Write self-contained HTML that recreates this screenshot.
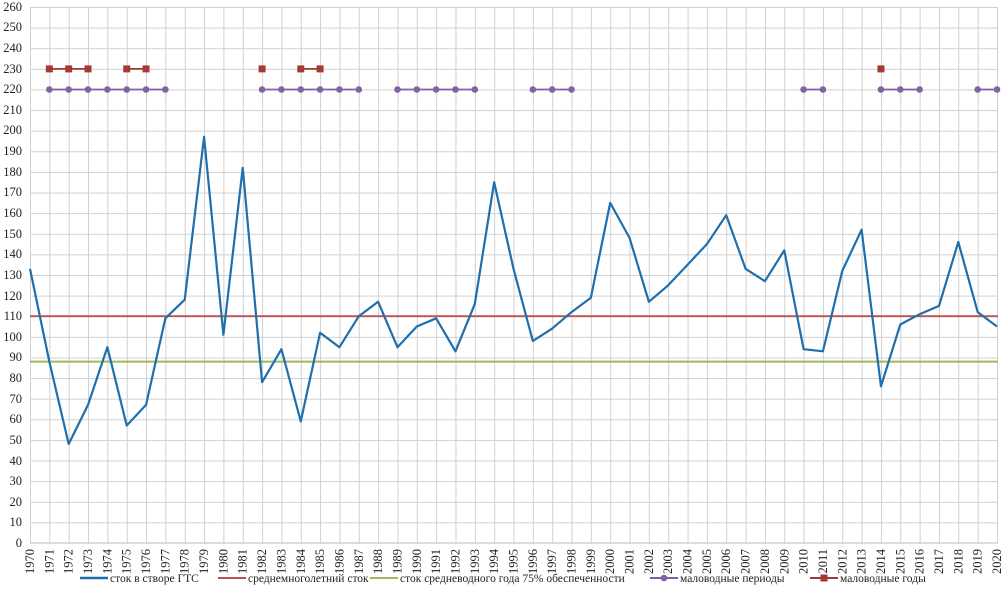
<!DOCTYPE html>
<html><head><meta charset="utf-8"><style>body{margin:0;background:#fff}svg{display:block;font-family:"Liberation Serif",serif}</style></head><body>
<svg width="1007" height="590" xmlns="http://www.w3.org/2000/svg">
<defs>
<pattern id="gp" patternUnits="userSpaceOnUse" x="30" y="7" width="19.34" height="20.615">
<path d="M0 0.5H19.34M0.5 0V20.615" stroke="#d0d0d0" stroke-width="1" fill="none"/>
</pattern>
</defs>
<rect x="30" y="7" width="968" height="536" fill="url(#gp)"/>
<line x1="30" y1="543" x2="998" y2="543" stroke="#bbb"/>
<line x1="997.5" y1="7" x2="997.5" y2="543" stroke="#d0d0d0"/>
<g font-size="12.5" text-anchor="end" fill="#222">
<text x="22" y="547">0</text><text x="22" y="526">10</text><text x="22" y="506">20</text><text x="22" y="485">30</text><text x="22" y="465">40</text><text x="22" y="444">50</text><text x="22" y="423">60</text><text x="22" y="403">70</text><text x="22" y="382">80</text><text x="22" y="361">90</text><text x="22" y="341">100</text><text x="22" y="320">110</text><text x="22" y="300">120</text><text x="22" y="279">130</text><text x="22" y="258">140</text><text x="22" y="238">150</text><text x="22" y="217">160</text><text x="22" y="196">170</text><text x="22" y="176">180</text><text x="22" y="155">190</text><text x="22" y="134">200</text><text x="22" y="114">210</text><text x="22" y="93">220</text><text x="22" y="73">230</text><text x="22" y="52">240</text><text x="22" y="31">250</text><text x="22" y="11">260</text>
</g>
<g font-size="12.5" text-anchor="end" fill="#222" transform="translate(0,549) rotate(-90)">
<text x="0" y="34">1970</text><text x="0" y="53.3">1971</text><text x="0" y="72.7">1972</text><text x="0" y="92">1973</text><text x="0" y="111.4">1974</text><text x="0" y="130.7">1975</text><text x="0" y="150">1976</text><text x="0" y="169.4">1977</text><text x="0" y="188.7">1978</text><text x="0" y="208.1">1979</text><text x="0" y="227.4">1980</text><text x="0" y="246.7">1981</text><text x="0" y="266.1">1982</text><text x="0" y="285.4">1983</text><text x="0" y="304.8">1984</text><text x="0" y="324.1">1985</text><text x="0" y="343.4">1986</text><text x="0" y="362.8">1987</text><text x="0" y="382.1">1988</text><text x="0" y="401.5">1989</text><text x="0" y="420.8">1990</text><text x="0" y="440.1">1991</text><text x="0" y="459.5">1992</text><text x="0" y="478.8">1993</text><text x="0" y="498.2">1994</text><text x="0" y="517.5">1995</text><text x="0" y="536.8">1996</text><text x="0" y="556.2">1997</text><text x="0" y="575.5">1998</text><text x="0" y="594.9">1999</text><text x="0" y="614.2">2000</text><text x="0" y="633.5">2001</text><text x="0" y="652.9">2002</text><text x="0" y="672.2">2003</text><text x="0" y="691.6">2004</text><text x="0" y="710.9">2005</text><text x="0" y="730.2">2006</text><text x="0" y="749.6">2007</text><text x="0" y="768.9">2008</text><text x="0" y="788.3">2009</text><text x="0" y="807.6">2010</text><text x="0" y="826.9">2011</text><text x="0" y="846.3">2012</text><text x="0" y="865.6">2013</text><text x="0" y="885">2014</text><text x="0" y="904.3">2015</text><text x="0" y="923.6">2016</text><text x="0" y="943">2017</text><text x="0" y="962.3">2018</text><text x="0" y="981.7">2019</text><text x="0" y="1001">2020</text>
</g>
<line x1="30" x2="998" y1="316.2" y2="316.2" stroke="#c0504d" stroke-width="1.8"/>
<line x1="30" x2="998" y1="361.6" y2="361.6" stroke="#9bbb59" stroke-width="2"/>
<polyline fill="none" stroke="#1f6fad" stroke-width="2.2" stroke-linejoin="round" points="30,268.8 49.34,361.6 68.68,444 88.02,404.9 107.36,347.2 126.7,425.5 146.04,404.9 165.38,318.3 184.72,299.7 204.06,136.9 223.4,334.8 242.74,167.8 262.08,382.2 281.42,349.2 300.76,421.4 320.1,332.7 339.44,347.2 358.78,316.2 378.12,301.8 397.46,347.2 416.8,326.5 436.14,318.3 455.48,351.3 474.82,303.9 494.16,182.2 513.5,268.8 532.84,341 552.18,328.6 571.52,312.1 590.86,297.7 610.2,202.9 629.54,237.9 648.88,301.8 668.22,285.3 687.56,264.7 706.9,244.1 726.24,215.2 745.58,268.8 764.92,281.2 784.26,250.3 803.6,349.2 822.94,351.3 842.28,270.9 861.62,229.7 880.96,386.3 900.3,324.5 919.64,314.2 939,305.9 958.3,242 977.7,312.1 997,326.5"/>
<g stroke="#8064a2" stroke-width="1.8">
<line x1="49.34" x2="165.38" y1="89.5" y2="89.5"/><line x1="262.08" x2="358.78" y1="89.5" y2="89.5"/><line x1="397.46" x2="474.82" y1="89.5" y2="89.5"/><line x1="532.84" x2="571.52" y1="89.5" y2="89.5"/><line x1="803.6" x2="822.94" y1="89.5" y2="89.5"/><line x1="880.96" x2="919.64" y1="89.5" y2="89.5"/><line x1="977.7" x2="997" y1="89.5" y2="89.5"/>
</g>
<g fill="#8064a2">
<circle cx="49.34" cy="89.5" r="3.3"/><circle cx="68.68" cy="89.5" r="3.3"/><circle cx="88.02" cy="89.5" r="3.3"/><circle cx="107.36" cy="89.5" r="3.3"/><circle cx="126.7" cy="89.5" r="3.3"/><circle cx="146.04" cy="89.5" r="3.3"/><circle cx="165.38" cy="89.5" r="3.3"/>
<circle cx="262.08" cy="89.5" r="3.3"/><circle cx="281.42" cy="89.5" r="3.3"/><circle cx="300.76" cy="89.5" r="3.3"/><circle cx="320.1" cy="89.5" r="3.3"/><circle cx="339.44" cy="89.5" r="3.3"/><circle cx="358.78" cy="89.5" r="3.3"/>
<circle cx="397.46" cy="89.5" r="3.3"/><circle cx="416.8" cy="89.5" r="3.3"/><circle cx="436.14" cy="89.5" r="3.3"/><circle cx="455.48" cy="89.5" r="3.3"/><circle cx="474.82" cy="89.5" r="3.3"/>
<circle cx="532.84" cy="89.5" r="3.3"/><circle cx="552.18" cy="89.5" r="3.3"/><circle cx="571.52" cy="89.5" r="3.3"/>
<circle cx="803.6" cy="89.5" r="3.3"/><circle cx="822.94" cy="89.5" r="3.3"/>
<circle cx="880.96" cy="89.5" r="3.3"/><circle cx="900.3" cy="89.5" r="3.3"/><circle cx="919.64" cy="89.5" r="3.3"/>
<circle cx="977.7" cy="89.5" r="3.3"/><circle cx="997" cy="89.5" r="3.3"/>
</g>
<g stroke="#a33a36" stroke-width="1.8">
<line x1="49.34" x2="88.02" y1="68.9" y2="68.9"/><line x1="126.7" x2="146.04" y1="68.9" y2="68.9"/><line x1="300.76" x2="320.1" y1="68.9" y2="68.9"/>
</g>
<g fill="#a33a36">
<rect x="45.84" y="65.4" width="7" height="7"/><rect x="65.18" y="65.4" width="7" height="7"/><rect x="84.52" y="65.4" width="7" height="7"/><rect x="123.2" y="65.4" width="7" height="7"/><rect x="142.54" y="65.4" width="7" height="7"/><rect x="258.58" y="65.4" width="7" height="7"/><rect x="297.26" y="65.4" width="7" height="7"/><rect x="316.6" y="65.4" width="7" height="7"/><rect x="877.46" y="65.4" width="7" height="7"/>
</g>
<g font-size="11.5" fill="#222">
<line x1="80" y1="578" x2="108" y2="578" stroke="#1f6fad" stroke-width="2.5"/><text x="110" y="582">сток в створе ГТС</text>
<line x1="218" y1="578" x2="246" y2="578" stroke="#c0504d" stroke-width="2"/><text x="248" y="582">среднемноголетний сток</text>
<line x1="370" y1="578" x2="398" y2="578" stroke="#9bbb59" stroke-width="2"/><text x="400" y="582">сток средневодного года 75% обеспеченности</text>
<line x1="650" y1="578" x2="678" y2="578" stroke="#8064a2" stroke-width="2"/><circle cx="664" cy="578" r="3.3" fill="#8064a2"/><text x="680" y="582">маловодные периоды</text>
<line x1="810" y1="578" x2="838" y2="578" stroke="#a33a36" stroke-width="2"/><rect x="820.5" y="574.5" width="7" height="7" fill="#a33a36"/><text x="840" y="582">маловодные годы</text>
</g>
</svg>
</body></html>
